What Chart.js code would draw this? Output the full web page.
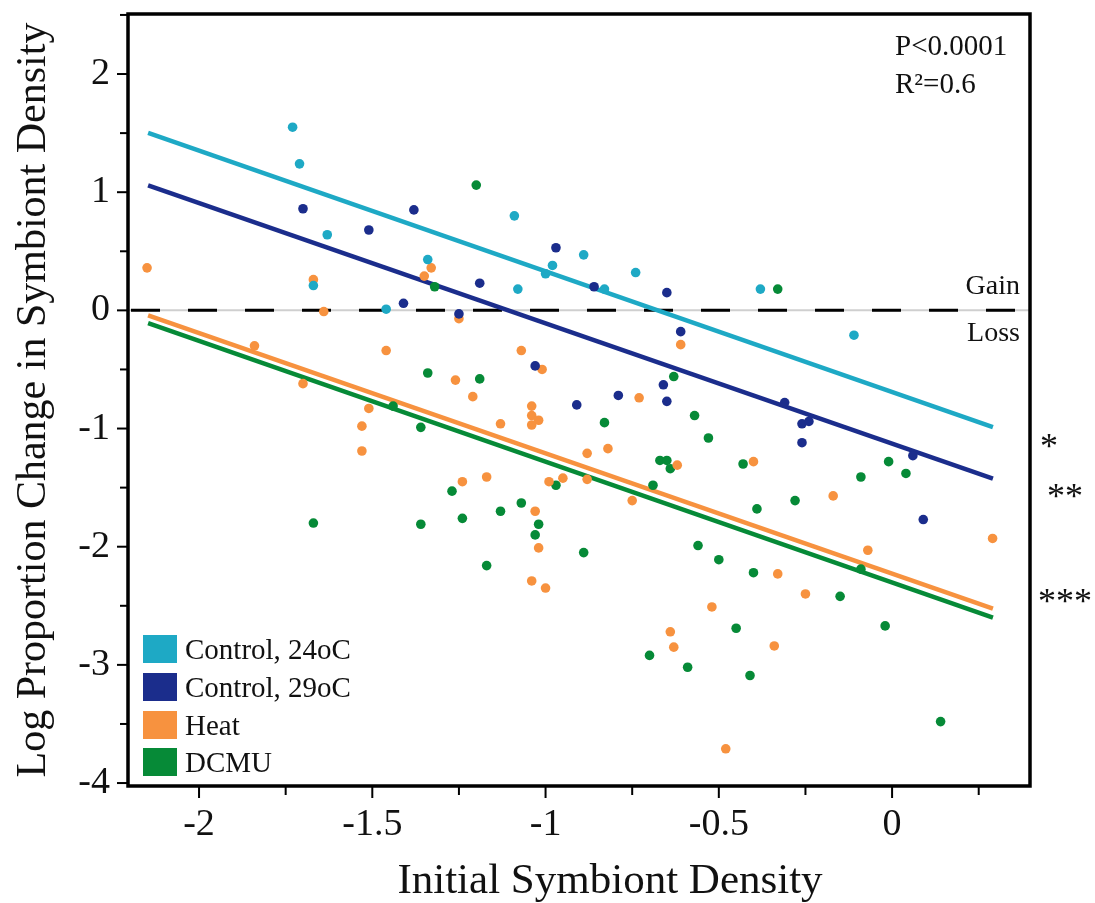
<!DOCTYPE html>
<html>
<head>
<meta charset="utf-8">
<script src="https://cdn.jsdelivr.net/npm/chart.js@4.4.1/dist/chart.umd.min.js"></script>
<style>
  html, body { margin: 0; padding: 0; background: #fff; }
  canvas { display: block; }
</style>
</head>
<body>
<canvas id="symbiontChart" width="1095" height="903"></canvas>
<script>
// --- DATA ---
const ctrl24X = [-1.73, -1.71, -1.63, -1.34, -1.67, -1.46, -1.09, -1.08, -0.89, -0.98, -1.00, -0.83, -0.74, -0.38, -0.11];
const ctrl24Y = [1.55, 1.24, 0.64, 0.43, 0.21, 0.01, 0.80, 0.18, 0.47, 0.38, 0.31, 0.18, 0.32, 0.18, -0.21];

const ctrl29X = [-1.70, -1.51, -1.38, -1.41, -1.19, -0.97, -0.86, -0.65, -1.25, -0.61, -1.03, -0.91, -0.79, -0.66, -0.65, -0.31, -0.26, -0.24, -0.26, 0.06, 0.09];
const ctrl29Y = [0.86, 0.68, 0.85, 0.06, 0.23, 0.53, 0.20, 0.15, -0.03, -0.18, -0.47, -0.80, -0.72, -0.63, -0.77, -0.78, -0.96, -0.94, -1.12, -1.23, -1.77];

const heatX = [-2.15, -1.67, -1.64, -1.84, -1.46, -1.33, -1.35, -1.25, -0.61, -1.07, -1.01, -1.26, -1.21, -0.73, -1.04, -1.04,
  -1.02, -1.04, -1.13, -0.88, -0.82, -0.62, -0.99, -0.95, -0.88, -0.75, -1.24, -1.17, -1.03, -1.02, -1.04, -1.70,
  -1.51, -1.53, -1.53, -0.40, -0.17, 0.29, -0.07, -0.33, -1.00, -0.52, -0.64, -0.63, -0.48, -0.25, -0.34];
const heatY = [0.36, 0.26, -0.01, -0.30, -0.34, 0.36, 0.29, -0.07, -0.29, -0.34, -0.50, -0.59, -0.73, -0.74, -0.81, -0.89,
  -0.93, -0.97, -0.96, -1.21, -1.17, -1.31, -1.45, -1.42, -1.43, -1.61, -1.45, -1.41, -1.70, -2.01, -2.29, -0.62,
  -0.83, -0.98, -1.19, -1.28, -1.57, -1.93, -2.03, -2.23, -2.35, -2.51, -2.72, -2.85, -3.71, -2.40, -2.84];

const dcmuX = [-1.32, -1.20, -0.33, -1.34, -1.19, -0.63, -0.83, -1.36, -0.57, -0.53, -0.67, -0.65, -0.64, -0.69, -0.97,
  -1.27, -1.07, -1.13, -1.24, -1.36, -1.02, -1.03, -0.89, -0.56, -0.50, -1.17, -1.44, -1.67, -0.43, -0.09, -0.01,
  0.04, -0.28, -0.39, -0.40, -0.09, -0.45, -0.70, -0.59, -0.41, -0.15, -0.02, 0.14];
const dcmuY = [0.20, 1.06, 0.18, -0.53, -0.58, -0.56, -0.95, -0.99, -0.89, -1.08, -1.27, -1.27, -1.34, -1.48, -1.48,
  -1.53, -1.63, -1.70, -1.76, -1.81, -1.81, -1.90, -2.05, -1.99, -2.11, -2.16, -0.81, -1.80, -1.30, -1.41, -1.28,
  -1.38, -1.61, -1.68, -2.22, -2.19, -2.69, -2.92, -3.02, -3.09, -2.42, -2.67, -3.48];

// fitted lines (end points)
const fitX = [-2.147, 0.291];
const ctrl24Fit = [1.503, -0.987];
const ctrl29Fit = [1.058, -1.424];
const heatFit = [-0.042, -2.524];
const dcmuFit = [-0.107, -2.600];

const seriesLabels = ['Control, 24oC', 'Control, 29oC', 'Heat', 'DCMU'];
const seriesColors = ['#1ea9c5', '#1b2d8c', '#f7923f', '#068a37'];

const SERIF = "'Liberation Serif', 'DejaVu Serif', serif";
Chart.defaults.font.family = SERIF;
Chart.defaults.color = '#111';

function toPoints(xs, ys) {
    return xs.map((x, i) => ({ x: x, y: ys[i] }));
}

function scatterSet(i, xs, ys) {
    return {
        type: 'scatter',
        label: seriesLabels[i],
        data: toPoints(xs, ys),
        backgroundColor: seriesColors[i],
        borderWidth: 0,
        pointRadius: 4.8,
        order: 1
    };
}

function fitSet(i, ys) {
    return {
        type: 'line',
        label: seriesLabels[i] + ' fit',
        data: toPoints(fitX, ys),
        borderColor: seriesColors[i],
        borderWidth: 4.5,
        pointRadius: 0,
        fill: false,
        order: 2
    };
}

// white page
const whiteBg = {
    id: 'whiteBg',
    beforeDraw(chart) {
        const { ctx } = chart;
        ctx.save();
        ctx.fillStyle = '#fff';
        ctx.fillRect(0, 0, chart.width, chart.height);
        ctx.restore();
    }
};

// gain / loss line at zero
const zeroLine = {
    id: 'zeroLine',
    beforeDatasetsDraw(chart) {
        const { ctx, chartArea } = chart;
        const y = chart.scales.y.getPixelForValue(0);
        ctx.save();
        ctx.strokeStyle = '#cfcfcf';
        ctx.lineWidth = 2;
        ctx.beginPath();
        ctx.moveTo(chartArea.left, y);
        ctx.lineTo(chartArea.right, y);
        ctx.stroke();
        ctx.strokeStyle = '#000';
        ctx.lineWidth = 3;
        ctx.setLineDash([29, 28]);
        ctx.lineDashOffset = -3;
        ctx.beginPath();
        ctx.moveTo(chartArea.left, y);
        ctx.lineTo(chartArea.right, y);
        ctx.stroke();
        ctx.restore();
    }
};

// frame, tick marks, text bits
const frameAndText = {
    id: 'frameAndText',
    afterDraw(chart) {
        const { ctx, chartArea } = chart;
        const xs = chart.scales.x;
        const ys = chart.scales.y;
        ctx.save();

        // tick marks outside the frame
        ctx.strokeStyle = '#000';
        ctx.lineWidth = 2;
        xs.ticks.forEach(t => {
            const px = xs.getPixelForValue(t.value);
            const major = Math.abs(t.value * 2 - Math.round(t.value * 2)) < 1e-6;
            ctx.beginPath();
            ctx.moveTo(px, chartArea.bottom);
            ctx.lineTo(px, chartArea.bottom + (major ? 12 : 9));
            ctx.stroke();
        });
        ys.ticks.forEach(t => {
            const py = ys.getPixelForValue(t.value);
            const major = Math.abs(t.value - Math.round(t.value)) < 1e-6;
            ctx.beginPath();
            ctx.moveTo(chartArea.left, py);
            ctx.lineTo(chartArea.left - (major ? 11 : 8), py);
            ctx.stroke();
        });

        // thick frame
        ctx.lineWidth = 3.5;
        ctx.strokeRect(chartArea.left, chartArea.top, chartArea.right - chartArea.left, chartArea.bottom - chartArea.top);

        // x title
        ctx.fillStyle = '#111';
        ctx.font = '43px ' + SERIF;
        ctx.textAlign = 'center';
        ctx.textBaseline = 'alphabetic';
        ctx.fillText('Initial Symbiont Density', 610, 893);

        // stats
        ctx.font = '29px ' + SERIF;
        ctx.textAlign = 'left';
        ctx.fillText('P<0.0001', 895, 55);
        ctx.fillText('R\u00B2=0.6', 895, 93);

        // gain / loss
        ctx.font = '28px ' + SERIF;
        ctx.textAlign = 'right';
        ctx.fillText('Gain', 1020, 294);
        ctx.fillText('Loss', 1020, 341);

        // significance stars
        ctx.font = '36px ' + SERIF;
        ctx.textAlign = 'center';
        ctx.fillText('*', 1049, 458);
        ctx.fillText('**', 1065, 508);
        ctx.fillText('***', 1065, 613);

        // legend
        const rowY = [649, 687, 725, 762];
        ctx.font = '29px ' + SERIF;
        ctx.textAlign = 'left';
        ctx.textBaseline = 'middle';
        seriesLabels.forEach((lab, i) => {
            ctx.fillStyle = seriesColors[i];
            ctx.fillRect(chartArea.left + 15, rowY[i] - 14, 34, 28);
            ctx.fillStyle = '#111';
            ctx.fillText(lab, chartArea.left + 57, rowY[i] + 2);
        });

        ctx.restore();
    }
};

const chartConfig = {
    data: {
        datasets: [
            scatterSet(0, ctrl24X, ctrl24Y),
            scatterSet(1, ctrl29X, ctrl29Y),
            scatterSet(2, heatX, heatY),
            scatterSet(3, dcmuX, dcmuY),
            fitSet(0, ctrl24Fit),
            fitSet(1, ctrl29Fit),
            fitSet(2, heatFit),
            fitSet(3, dcmuFit)
        ]
    },
    options: {
        responsive: false,
        animation: false,
        layout: { padding: { left: 0, top: 14, right: 65, bottom: 0 } },
        plugins: {
            legend: { display: false },
            tooltip: { enabled: false }
        },
        scales: {
            x: {
                type: 'linear',
                min: -2.205,
                max: 0.398,
                grid: { display: false, drawTicks: false },
                border: { display: false },
                ticks: {
                    stepSize: 0.25,
                    includeBounds: false,
                    autoSkip: false,
                    maxRotation: 0,
                    padding: 16,
                    font: { size: 38 },
                    callback: v => Math.abs(v * 2 - Math.round(v * 2)) < 1e-6 ? String(Math.round(v * 100) / 100) : ''
                },
                afterFit: s => {
                    s.height = 117;
                    s.paddingLeft = 0;
                    s.paddingRight = 0;
                }
            },
            y: {
                type: 'linear',
                min: -4.025,
                max: 2.508,
                grid: { display: false, drawTicks: false },
                border: { display: false },
                ticks: {
                    stepSize: 0.5,
                    includeBounds: false,
                    autoSkip: false,
                    padding: 18,
                    font: { size: 38 },
                    callback: v => Math.abs(v - Math.round(v)) < 1e-6 ? String(Math.round(v)) : ''
                },
                title: {
                    display: true,
                    text: 'Log Proportion Change in Symbiont Density',
                    font: { size: 42, lineHeight: 1.2 },
                    padding: { top: 9, bottom: 0 }
                },
                afterFit: s => {
                    s.width = 128;
                    s.paddingTop = 0;
                    s.paddingBottom = 0;
                }
            }
        }
    },
    plugins: [whiteBg, zeroLine, frameAndText]
};

const symbiontChart = new Chart(document.getElementById('symbiontChart'), chartConfig);
</script>
</body>
</html>
